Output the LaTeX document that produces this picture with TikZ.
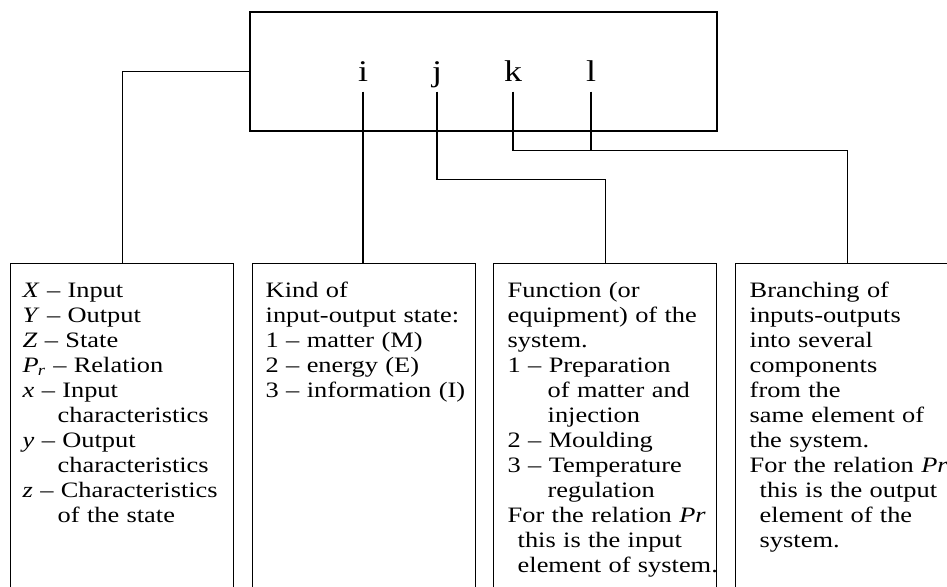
\documentclass[tikz,border=0pt]{standalone}
\usepackage{fontspec}
\setmainfont{Liberation Serif}[FakeStretch=1.2]
\usepackage{tikz}
\usetikzlibrary{positioning}

\newcommand{\boxfont}{\fontsize{11}{12.5}\selectfont}
\newcommand{\indA}{\hspace*{17.5pt}}
\newcommand{\indB}{\hspace*{20pt}}
\newcommand{\indC}{\hspace*{5pt}}

\begin{document}
\begin{tikzpicture}[x=0.5pt,y=-0.5pt,line width=0.7pt,
  letter/.style={inner sep=0pt,anchor=base,text depth=5pt,font=\fontsize{15}{18}\selectfont},
  legend/.style={draw,anchor=north west,minimum width=111.5pt,minimum height=170pt,inner sep=0pt},
  txt/.style={inner sep=0pt,anchor=north west,align=left,text width=108pt,font=\boxfont,
    execute at begin node=\strut}]
\useasboundingbox (0,0) rectangle (947,586);
\clip (0,0) rectangle (947,586);

% system and its elements
\node[draw,minimum width=233.5pt,minimum height=59.5pt,inner sep=0pt] (sys) at (483.5,71.5) {};
\node[letter] (i) at (363,81) {i};
\node[letter] (j) at (437,81) {j};
\node[letter] (k) at (513,81) {k};
\node[letter] (l) at (591,81) {l};

% legend boxes
\node[legend] (symb) at (10,263) {};
\node[legend] (kind) at (252,263) {};
\node[legend] (func) at (493,263) {};
\node[legend] (branch) at (735,263) {};

\node[txt,below right=8.25pt and 6pt of symb.north west] (symbtxt) {%
\textit{X} -- Input\\
\textit{Y} -- Output\\
\textit{Z} -- State\\
\textit{P\kern-0.5pt\textsubscript{r}} -- Relation\\
\textit{x} -- Input\\
\indA characteristics\\
\textit{y} -- Output\\
\indA characteristics\\
\textit{z} -- Characteristics\\
\indA of the state};

\node[txt,below right=8.25pt and 6.5pt of kind.north west] (kindtxt) {%
Kind of\\
input-output state:\\
1 -- matter (M)\\
2 -- energy (E)\\
3 -- information (I)};

\node[txt,below right=8.25pt and 7pt of func.north west] (functxt) {%
Function (or\\
equipment) of the\\
system.\\
1 -- Preparation\\
\indB of matter and\\
\indB injection\\
2 -- Moulding\\
3 -- Temperature\\
\indB regulation\\
For the relation \textit{Pr}\\
\indC this is the input\\
\indC element of system.};

\node[txt,below right=8.25pt and 7pt of branch.north west] (branchtxt) {%
Branching of\\
inputs-outputs\\
into several\\
components\\
from the\\
same element of\\
the system.\\
For the relation \textit{Pr}\\
\indC this is the output\\
\indC element of the\\
\indC system.};

% connectors
\draw (sys.west) -| (symb.north);
\draw (i.south) -- (i.south |- kind.north);
\draw (j.south) -- ++(0,88) -| (func.north);
\draw (k.south) -- ++(0,59) coordinate (kbend) -| (branch.north);
\draw (l.south) -- (l.south |- kbend);
\end{tikzpicture}
\end{document}
